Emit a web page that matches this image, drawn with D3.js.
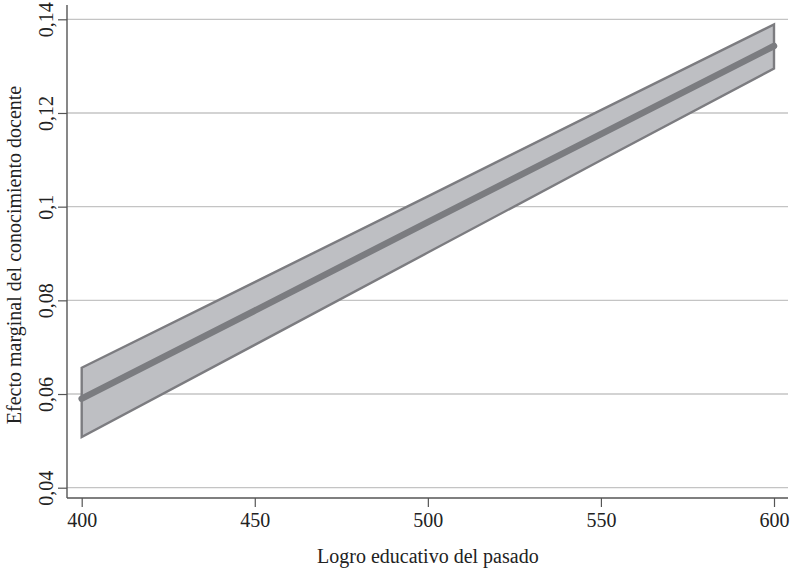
<!DOCTYPE html>
<html>
<head>
<meta charset="utf-8">
<script src="https://cdn.jsdelivr.net/npm/d3@7"></script>
<style>
  body { margin: 0; background: #fff; }
  text { font-family: "Liberation Serif", "DejaVu Serif", serif; fill: #222; }
</style>
</head>
<body>
<svg id="chart" width="793" height="571"></svg>
<script>
// values
const logro = [400, 450, 500, 550, 600];
const efecto = [0.0590, 0.0778, 0.0967, 0.1155, 0.1343];
const superior = [0.0656, 0.0839, 0.1022, 0.1206, 0.1389];
const inferior = [0.0508, 0.0705, 0.0902, 0.1099, 0.1295];
const xTicks = [400, 450, 500, 550, 600];
const yTicks = [0.04, 0.06, 0.08, 0.1, 0.12, 0.14];

const rows = logro.map((x, i) => ({ x, y: efecto[i], hi: superior[i], lo: inferior[i] }));

const svg = d3.select("#chart");

const axisX = 67, axisY = 498;
const x = d3.scaleLinear().domain([400, 600]).range([81.7, 774]);
const y = d3.scaleLinear().domain([0.04, 0.14]).range([487.7, 19.3]);

const fmt = d => String(d).replace(".", ",");

// gridlines
svg.append("g")
    .selectAll("line")
    .data(yTicks)
    .join("line")
    .attr("x1", axisX).attr("x2", 788)
    .attr("y1", d => y(d)).attr("y2", d => y(d))
    .attr("stroke", "#c4c4c4")
    .attr("stroke-width", 1.3);

// confidence band
const area = d3.area()
    .x(d => x(d.x))
    .y0(d => y(d.lo))
    .y1(d => y(d.hi));

svg.append("path")
    .datum(rows)
    .attr("d", d => area(d) + "Z")
    .attr("fill", "#bebfc3")
    .attr("stroke", "#7c7c80")
    .attr("stroke-width", 2.4)
    .attr("stroke-linejoin", "miter");

// marginal effect line
svg.append("path")
    .datum(rows)
    .attr("d", d3.line().x(d => x(d.x)).y(d => y(d.y)))
    .attr("fill", "none")
    .attr("stroke", "#7b7c80")
    .attr("stroke-width", 6.5)
    .attr("stroke-linecap", "round");

// axes
const xAxis = svg.append("g")
    .attr("transform", `translate(0,${axisY})`)
    .call(d3.axisBottom(x).tickValues(xTicks).tickSize(9).tickPadding(6).tickFormat(d3.format("d")));
xAxis.select(".domain").attr("d", `M${axisX},0H788`);

const yAxis = svg.append("g")
    .attr("transform", `translate(${axisX},0)`)
    .call(d3.axisLeft(y).tickValues(yTicks).tickSize(9).tickFormat(fmt));
yAxis.select(".domain").attr("d", `M0,5V${axisY}`);

[xAxis, yAxis].forEach(g => {
    g.select(".domain").attr("stroke", "#555").attr("stroke-width", 1.4);
    g.selectAll(".tick line").attr("stroke", "#555").attr("stroke-width", 1.2);
    g.selectAll("text").attr("font-size", 20)
        .attr("font-family", "Liberation Serif, serif").attr("fill", "#222");
});

yAxis.selectAll(".tick text")
    .attr("x", null).attr("dy", null)
    .attr("text-anchor", "middle")
    .attr("transform", "translate(-14,0) rotate(-90)");

// axis titles
svg.append("text")
    .attr("x", x(500))
    .attr("y", 563)
    .attr("text-anchor", "middle")
    .attr("font-size", 20)
    .text("Logro educativo del pasado");

svg.append("text")
    .attr("transform", `translate(21,${255}) rotate(-90)`)
    .attr("text-anchor", "middle")
    .attr("font-size", 20)
    .text("Efecto marginal del conocimiento docente");
</script>
</body>
</html>
